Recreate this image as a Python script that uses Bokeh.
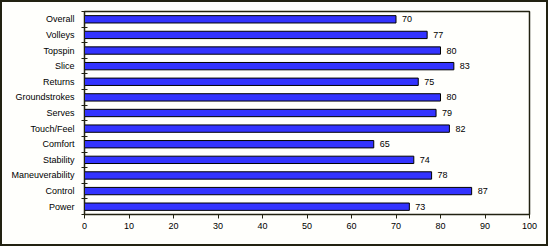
from bokeh.plotting import figure
from bokeh.models import Range1d, FixedTicker, ColumnDataSource
from bokeh.core.properties import value
from bokeh.embed import file_html
from bokeh.resources import INLINE

categories = ["Overall", "Volleys", "Topspin", "Slice", "Returns", "Groundstrokes",
              "Serves", "Touch/Feel", "Comfort", "Stability", "Maneuverability",
              "Control", "Power"]
scores = [70, 77, 80, 83, 75, 80, 79, 82, 65, 74, 78, 87, 73]
x_ticks = [0, 10, 20, 30, 40, 50, 60, 70, 80, 90, 100]

n = len(categories)
ypos = [n - 1 - i for i in range(n)]
src = ColumnDataSource(dict(cat=categories, score=scores, y=ypos,
                            label=[str(s) for s in scores]))

FONT = "Liberation Sans"
DARK = "#222211"

p = figure(width=544, height=242, output_backend="svg", toolbar_location=None,
           x_range=Range1d(0, 100), y_range=Range1d(-0.5, n - 0.5),
           min_border_left=82, min_border_right=21, min_border_top=9,
           min_border_bottom=34, background_fill_color="#fffffc",
           border_fill_color="#fffffc")
p.styles = {"border": "2px solid " + DARK, "box-sizing": "content-box"}

p.outline_line_color = DARK
p.outline_line_width = 1.5
p.grid.visible = False

p.hbar(y="y", right="score", left=0, height=0.47, source=src,
       fill_color="#3333ff", line_color="black", line_width=1)

p.text(x="score", y="y", text="label", source=src, x_offset=6,
       text_baseline="middle", text_align="left", text_font=value(FONT),
       text_font_size="9px", text_color="black")

xa = p.xaxis[0]
xa.ticker = FixedTicker(ticks=x_ticks)
xa.major_tick_in = 0
xa.major_tick_out = 4
xa.minor_tick_line_color = None
xa.axis_line_color = DARK
xa.major_tick_line_color = DARK
xa.major_label_text_font = FONT
xa.major_label_text_font_size = "9px"
xa.major_label_text_color = "black"
xa.major_label_standoff = 4

ya = p.yaxis[0]
ya.ticker = FixedTicker(ticks=ypos, minor_ticks=[k - 0.5 for k in range(n + 1)])
ya.major_label_overrides = {y: c for y, c in zip(ypos, categories)}
ya.major_tick_line_color = None
ya.minor_tick_line_color = DARK
ya.minor_tick_in = 3
ya.minor_tick_out = 3
ya.axis_line_color = DARK
ya.major_label_text_font = FONT
ya.major_label_text_font_size = "9px"
ya.major_label_text_color = "black"
ya.major_label_standoff = 4

open("out.html", "w").write(file_html(p, INLINE))
